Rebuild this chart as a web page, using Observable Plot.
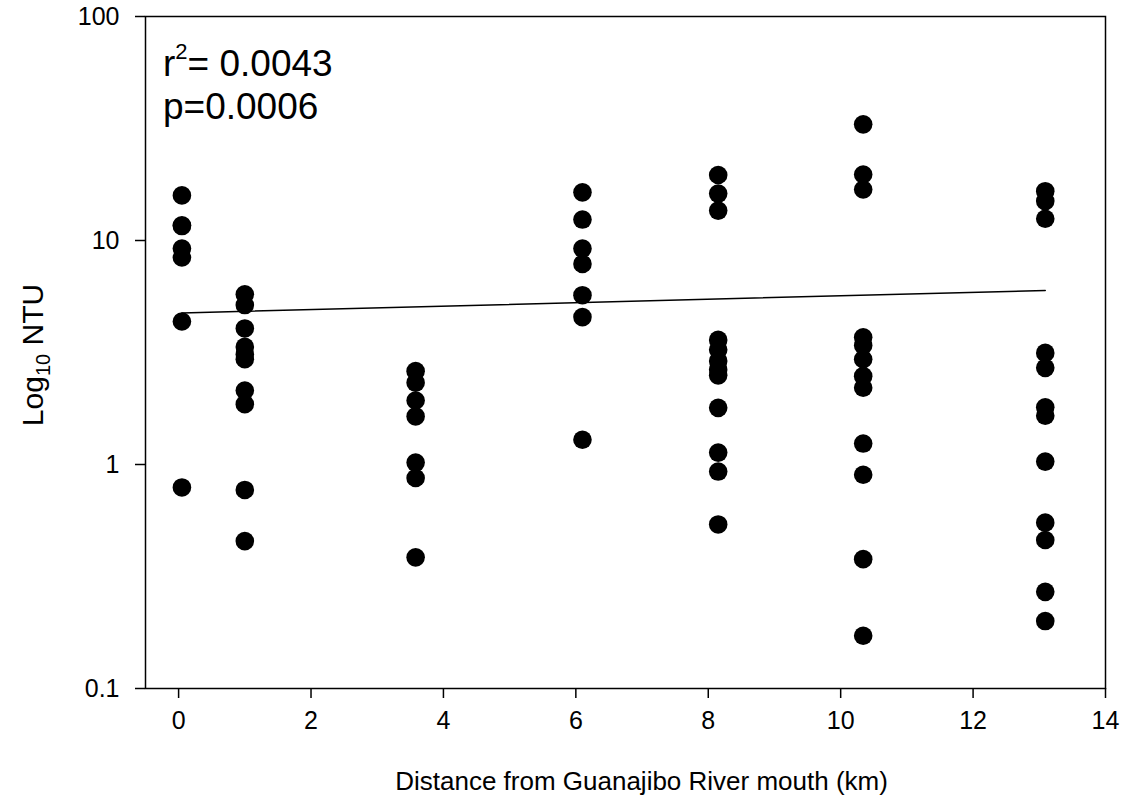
<!DOCTYPE html>
<html>
<head>
<meta charset="utf-8">
<script src="https://cdn.jsdelivr.net/npm/d3@7"></script>
<script src="https://cdn.jsdelivr.net/npm/@observablehq/plot@0.6"></script>
<style>
  html, body { margin: 0; padding: 0; background: #fff; }
  #chart svg { display: block; }
</style>
</head>
<body>
<div id="chart"></div>
<script>
// Station distances from the river mouth (km)
const stations = [0.05, 1.0, 3.58, 6.10, 8.15, 10.34, 13.09];
// Turbidity (NTU) readings at each station
const ntuStation1 = [15.9, 11.7, 11.6, 9.2, 8.4, 4.35, 0.79];
const ntuStation2 = [5.75, 5.15, 4.05, 3.35, 3.1, 2.95, 2.14, 1.86, 0.77, 0.455];
const ntuStation3 = [2.61, 2.32, 1.93, 1.64, 1.02, 0.87, 0.385];
const ntuStation4 = [16.4, 12.4, 9.2, 7.86, 5.7, 4.55, 1.29];
const ntuStation5 = [19.6, 16.2, 13.6, 3.6, 3.25, 2.9, 2.65, 2.5, 1.79, 1.13, 0.93, 0.54];
const ntuStation6 = [33, 19.7, 16.9, 3.7, 3.4, 2.95, 2.48, 2.2, 1.24, 0.9, 0.378, 0.172];
const ntuStation7 = [16.6, 15.0, 12.5, 3.15, 2.7, 1.8, 1.65, 1.03, 0.55, 0.46, 0.27, 0.2];
// Regression line end points
const fitDistance = [0.05, 13.09];
const fitNTU = [4.75, 5.98];
// Tick values
const xTicks = [0, 2, 4, 6, 8, 10, 12, 14];
const yTicks = [0.1, 1, 10, 100];
// Texts
const xTitle = "Distance from Guanajibo River mouth (km)";
const rSquared = "0.0043";
const pValue = "0.0006";

const readings = [ntuStation1, ntuStation2, ntuStation3, ntuStation4, ntuStation5, ntuStation6, ntuStation7];
const points = readings.flatMap((vals, i) => vals.map(v => ({distance: stations[i], ntu: v})));
const fit = fitDistance.map((d, i) => ({distance: d, ntu: fitNTU[i]}));

const FONT = "'Liberation Sans', Arial, Helvetica, sans-serif";

const plot = Plot.plot({
  width: 1124,
  height: 802,
  marginLeft: 145,
  marginRight: 19,
  marginTop: 16,
  marginBottom: 114,
  style: {fontFamily: FONT, background: "white", color: "black"},
  x: {domain: [-0.5, 14]},
  y: {type: "log", domain: [0.1, 100]},
  marks: [
    Plot.frame({stroke: "black", strokeWidth: 1.5}),
    Plot.axisX({ticks: xTicks, tickSize: 10, tickPadding: 13, fontSize: 25, label: null, tickFormat: d => `${d}`, strokeWidth: 1.5}),
    Plot.axisY({ticks: yTicks, tickSize: 10, tickPadding: 16, fontSize: 25, label: null, tickFormat: d => `${d}`, strokeWidth: 1.5}),
    Plot.line(fit, {x: "distance", y: "ntu", stroke: "black", strokeWidth: 1.5}),
    Plot.dot(points, {x: "distance", y: "ntu", r: 9.3, fill: "black", stroke: "none"})
  ]
});

document.getElementById("chart").appendChild(plot);

const svg = d3.select(plot);
const xs = plot.scale("x");
const ys = plot.scale("y");
const cx = (xs.apply(0) + xs.apply(14)) / 2;
const cy = (ys.apply(0.1) + ys.apply(100)) / 2;

// X axis title
svg.append("text")
  .attr("x", cx).attr("y", 790)
  .attr("text-anchor", "middle")
  .attr("font-family", FONT).attr("font-size", 26).attr("fill", "black")
  .text(xTitle);

// Y axis title with subscript
const yt = svg.append("text")
  .attr("transform", `translate(43,${cy + 3}) rotate(-90)`)
  .attr("text-anchor", "middle")
  .attr("font-family", FONT).attr("font-size", 30).attr("fill", "black");
yt.append("tspan").text("Log");
yt.append("tspan").attr("font-size", 20).attr("dy", 7).text("10");
yt.append("tspan").attr("dy", -7).text(" NTU");

// Statistics annotation
const a1 = svg.append("text")
  .attr("x", 163).attr("y", 76)
  .attr("text-anchor", "start")
  .attr("font-family", FONT).attr("font-size", 37).attr("fill", "black");
a1.append("tspan").text("r");
a1.append("tspan").attr("font-size", 22).attr("dy", -17).text("2");
a1.append("tspan").attr("dy", 17).text(`= ${rSquared}`);

svg.append("text")
  .attr("x", 163).attr("y", 119)
  .attr("text-anchor", "start")
  .attr("font-family", FONT).attr("font-size", 37).attr("fill", "black")
  .text(`p=${pValue}`);
</script>
</body>
</html>
